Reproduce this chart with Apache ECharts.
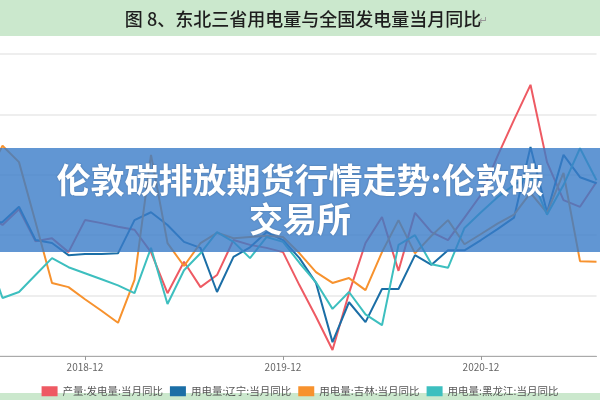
<!DOCTYPE html>
<html>
<head>
<meta charset="utf-8">
<script src="https://cdn.jsdelivr.net/npm/echarts@6/dist/echarts.min.js"></script>
<style>
  html, body { margin: 0; padding: 0; background: #fff; }
  #chart { width: 600px; height: 400px; }
</style>
</head>
<body>
<div id="chart"></div>
<script>
var months = [
    '2018-06', '2018-07', '2018-08', '2018-09', '2018-10', '2018-11', '2018-12',
    '2019-01', '2019-02', '2019-03', '2019-04', '2019-05', '2019-06',
    '2019-07', '2019-08', '2019-09', '2019-10', '2019-11', '2019-12',
    '2020-01', '2020-02', '2020-03', '2020-04', '2020-05', '2020-06',
    '2020-07', '2020-08', '2020-09', '2020-10', '2020-11', '2020-12',
    '2021-01', '2021-02', '2021-03', '2021-04', '2021-05', '2021-06', '2021-07'
];
var seriesNames = ['产量:发电量:当月同比', '用电量:辽宁:当月同比', '用电量:吉林:当月同比', '用电量:黑龙江:当月同比'];
var seriesColors = ['#ee5a63', '#1b6ea6', '#f7922e', '#3dbfbf'];

// 全国发电量
var power = [3.5, 1.7, 4.3, -1.0, -0.5, -2.8, 2.5, 2.0, 1.4, 0.9, -2.8, -9.6, -4.4, -8.6, -6.6, -0.8, -1.6, -2.1, -2.8,
    -8.3, -13.5, -19.0, -9.6, -1.3, 3.0, -5.9, 3.7, 0.5, -0.8, 2.9, 6.7, 13.1, 19.1, 24.9, 12.1, 5.8, 4.7, 8.8];
// 辽宁
var liaoning = [1.7, 2.2, 4.7, -0.8, -1.3, -3.3, -3.1, -3.1, -3.0, 2.5, 3.8, 1.7, -1.1, -2.1, -9.4, -3.6, -2.0, 0.5, -0.8,
    -3.8, -7.9, -17.7, -11.1, -14.4, -8.9, -8.9, -3.3, -4.9, -2.5, -2.5, -0.8, 1.0, 2.9, 14.6, 3.8, 13.3, 9.6, 8.6];
// 吉林
var jilin = [9.5, 14.8, 12.1, 2.2, -7.9, -8.6, -10.6, -12.5, -14.5, -7.4, 13.3, -1.3, -5.1, -1.3, 0.4, -0.5, -0.3, -0.1, -0.3,
    -3.0, -6.1, -7.9, -7.1, -9.1, -2.8, 2.5, -3.0, -0.1, 2.5, -1.5, 0.2, 1.9, 3.4, 7.0, 3.7, 10.3, -4.3, -4.4];
// 黑龙江
var heilongjiang = [-2.5, -10.4, -9.4, -6.6, -3.8, -5.3, -6.3, -7.3, -8.3, -9.6, -2.1, -11.4, -5.8, -3.0, 0.5, -1.1, -3.8, -0.3, -1.1,
    -4.6, -7.8, -12.2, -9.4, -13.1, -14.9, -1.6, 0.0, -4.8, -5.4, 1.2, 3.8, 6.3, 8.3, 10.0, 3.4, 8.3, 14.4, 9.1];

var cjk = '"Noto Sans CJK SC", sans-serif';

function isDecember(idx, val) {
    return String(val).slice(5) === '12';
}

function makeLine(i, data) {
    return {
        name: seriesNames[i],
        type: 'line',
        data: data,
        symbol: 'none',
        showSymbol: false,
        color: seriesColors[i],
        lineStyle: { width: 2, color: seriesColors[i] },
        animation: false
    };
}

var myChart = echarts.init(document.getElementById('chart'), null, { renderer: 'canvas' });
var option = {
    backgroundColor: '#fff',
    animation: false,
    grid: {
        left: -14,
        right: 3.5,
        top: 54,
        bottom: 44,
        outerBoundsMode: 'none'
    },
    legend: {
        data: seriesNames,
        top: 381,
        left: 'center',
        icon: 'rect',
        itemWidth: 16,
        itemHeight: 10,
        itemGap: 7,
        textStyle: { fontSize: 10.5, color: '#555', fontFamily: cjk }
    },
    xAxis: {
        type: 'category',
        boundaryGap: false,
        data: months,
        axisLine: { onZero: false, lineStyle: { color: '#aaa', width: 1 } },
        axisTick: { show: true, interval: isDecember, length: 4, lineStyle: { color: '#999' } },
        axisLabel: { interval: isDecember, color: '#666', fontSize: 10, margin: 6, fontFamily: cjk },
        splitLine: { show: false }
    },
    yAxis: {
        type: 'value',
        min: -20,
        max: 30,
        interval: 10,
        axisLabel: { show: false },
        axisLine: { show: false },
        axisTick: { show: false },
        splitLine: { lineStyle: { color: '#e8e8e8', width: 1.5 } }
    },
    series: [
        makeLine(0, power),
        makeLine(1, liaoning),
        makeLine(2, jilin),
        makeLine(3, heilongjiang)
    ],
    graphic: [
        {
            type: 'rect', z: 0,
            shape: { x: 0, y: 0, width: 600, height: 36 },
            style: { fill: '#cbe8cd' }
        },
        {
            type: 'text', z: 1,
            style: {
                text: '图 8、东北三省用电量与全国发电量当月同比',
                x: 303, y: 19, textAlign: 'center', textVerticalAlign: 'middle',
                font: '500 18px "Noto Sans CJK SC"', fill: '#1e1e1e'
            }
        },
        {
            type: 'text', z: 1,
            style: {
                text: '↵', x: 479, y: 21, textAlign: 'left', textVerticalAlign: 'middle',
                font: '11px "DejaVu Sans"', fill: '#999'
            }
        },
        {
            type: 'rect', z: 0,
            shape: { x: 0, y: 393, width: 600, height: 7 },
            style: { fill: '#cbe8cd' }
        },
        {
            type: 'rect', z: 50,
            shape: { x: 0, y: 148, width: 600, height: 104 },
            style: { fill: 'rgba(58,124,200,0.8)' }
        },
        {
            type: 'text', z: 51,
            style: {
                text: '伦敦碳排放期货行情走势:伦敦碳',
                x: 300, y: 180, textAlign: 'center', textVerticalAlign: 'middle',
                font: 'bold 34px "Noto Sans CJK SC"', fill: '#fff',
                textShadowColor: 'rgba(0,0,0,0.25)', textShadowBlur: 2
            }
        },
        {
            type: 'text', z: 51,
            style: {
                text: '交易所',
                x: 300, y: 219, textAlign: 'center', textVerticalAlign: 'middle',
                font: 'bold 34px "Noto Sans CJK SC"', fill: '#fff',
                textShadowColor: 'rgba(0,0,0,0.25)', textShadowBlur: 2
            }
        }
    ]
};
myChart.setOption(option);
</script>
</body>
</html>
